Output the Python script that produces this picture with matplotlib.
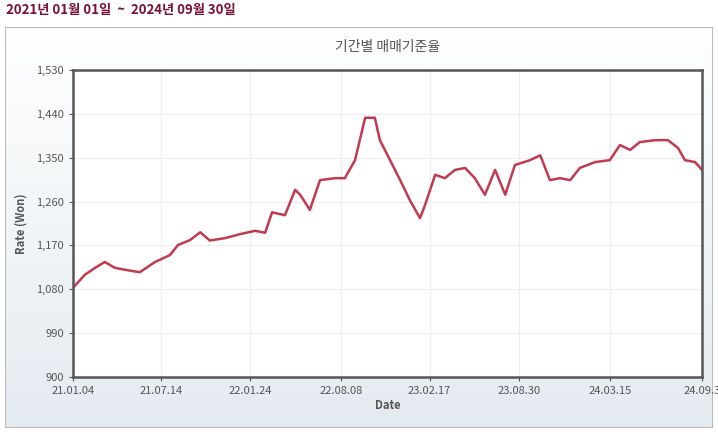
import numpy as np
import pandas as pd
import matplotlib.pyplot as plt
import matplotlib.dates as mdates
from matplotlib.patches import Rectangle

plt.rcParams['font.family'] = ['Noto Sans CJK KR', 'DejaVu Sans']

dates = ['2021-01-04', '2021-01-30', '2021-02-21', '2021-03-14', '2021-04-05', '2021-04-27',
         '2021-05-29', '2021-07-01', '2021-08-02', '2021-08-20', '2021-09-15', '2021-10-07',
         '2021-10-28', '2021-11-30', '2022-01-01', '2022-02-03', '2022-02-25', '2022-03-12',
         '2022-04-09', '2022-05-01', '2022-05-12', '2022-06-02', '2022-06-24', '2022-07-27',
         '2022-08-17', '2022-09-08', '2022-09-30', '2022-10-21', '2022-11-01', '2022-11-23',
         '2022-12-15', '2023-01-05', '2023-01-27', '2023-02-07', '2023-03-01', '2023-03-22',
         '2023-04-13', '2023-05-05', '2023-05-26', '2023-06-17', '2023-07-09', '2023-07-31',
         '2023-08-21', '2023-09-23', '2023-10-15', '2023-11-05', '2023-11-27', '2023-12-19',
         '2024-01-09', '2024-02-11', '2024-03-14', '2024-04-05', '2024-04-27', '2024-05-18',
         '2024-06-20', '2024-07-18', '2024-08-09', '2024-08-24', '2024-09-15', '2024-09-30']
rates = [1083, 1110, 1124, 1136, 1124, 1120, 1115, 1136, 1150, 1171, 1181, 1197,
         1180, 1185, 1193, 1200, 1196, 1238, 1232, 1284, 1274, 1243, 1304, 1308,
         1308, 1345, 1432, 1432, 1386, 1345, 1304, 1263, 1226, 1253, 1315, 1308,
         1325, 1329, 1308, 1274, 1325, 1274, 1335, 1345, 1355, 1304, 1308, 1304,
         1329, 1341, 1345, 1376, 1366, 1382, 1386, 1386, 1370, 1345, 1341, 1325]
tick_dates = ['2021-01-04', '2021-07-14', '2022-01-24', '2022-08-08', '2023-02-17',
              '2023-08-30', '2024-03-15', '2024-09-30']
tick_labels = ['21.01.04', '21.07.14', '22.01.24', '22.08.08', '23.02.17',
               '23.08.30', '24.03.15', '24.09.3']
yticks = [900, 990, 1080, 1170, 1260, 1350, 1440, 1530]

fig = plt.figure(figsize=(7.18, 4.38), dpi=100)
fig.patch.set_facecolor('white')

# panel with vertical gradient
bg = fig.add_axes([5 / 718, 1 - 427 / 438, 707 / 718, 400 / 438])
grad = np.linspace(0, 1, 256).reshape(-1, 1)
bg.imshow(grad, aspect='auto', extent=[0, 1, 0, 1], origin='upper',
          cmap=plt.matplotlib.colors.LinearSegmentedColormap.from_list('g', ['#ffffff', '#e4ebf0']))
bg.set_xticks([]); bg.set_yticks([])
for s in bg.spines.values():
    s.set_color('#bbbbbb')

fig.text(6 / 718, 1 - 10 / 438, '2021년 01월 01일  ~  2024년 09월 30일', color='#7a1035',
         fontsize=9.5, fontweight='bold', va='center')
fig.text(0.54, 1 - 47 / 438, '기간별 매매기준율', color='#555555', fontsize=10, ha='center', va='center')

ax = fig.add_axes([73 / 718, 1 - 377 / 438, 629 / 718, 307 / 438])
ax.set_facecolor('white')
x = pd.to_datetime(dates)
ax.plot(x, rates, color='#c23a4e', linewidth=1.8)
ax.set_xlim(pd.Timestamp(tick_dates[0]), pd.Timestamp(tick_dates[-1]))
ax.set_ylim(900, 1530)
ax.set_yticks(yticks)
ax.set_yticklabels([f'{v:,}' for v in yticks])
ax.set_xticks(pd.to_datetime(tick_dates))
ax.set_xticklabels(tick_labels)
ax.tick_params(colors='#555555', labelsize=8, length=3)
ax.grid(True, color='#eeeeee', linewidth=0.8)
for s in ax.spines.values():
    s.set_color('#555555')
    s.set_linewidth(1.8)
ax.set_xlabel('Date', fontsize=8, fontweight='bold', color='#555555', labelpad=2)
ax.set_ylabel('Rate (Won)', fontsize=8, fontweight='bold', color='#555555', labelpad=6)

plt.savefig('out.png', dpi=100)
